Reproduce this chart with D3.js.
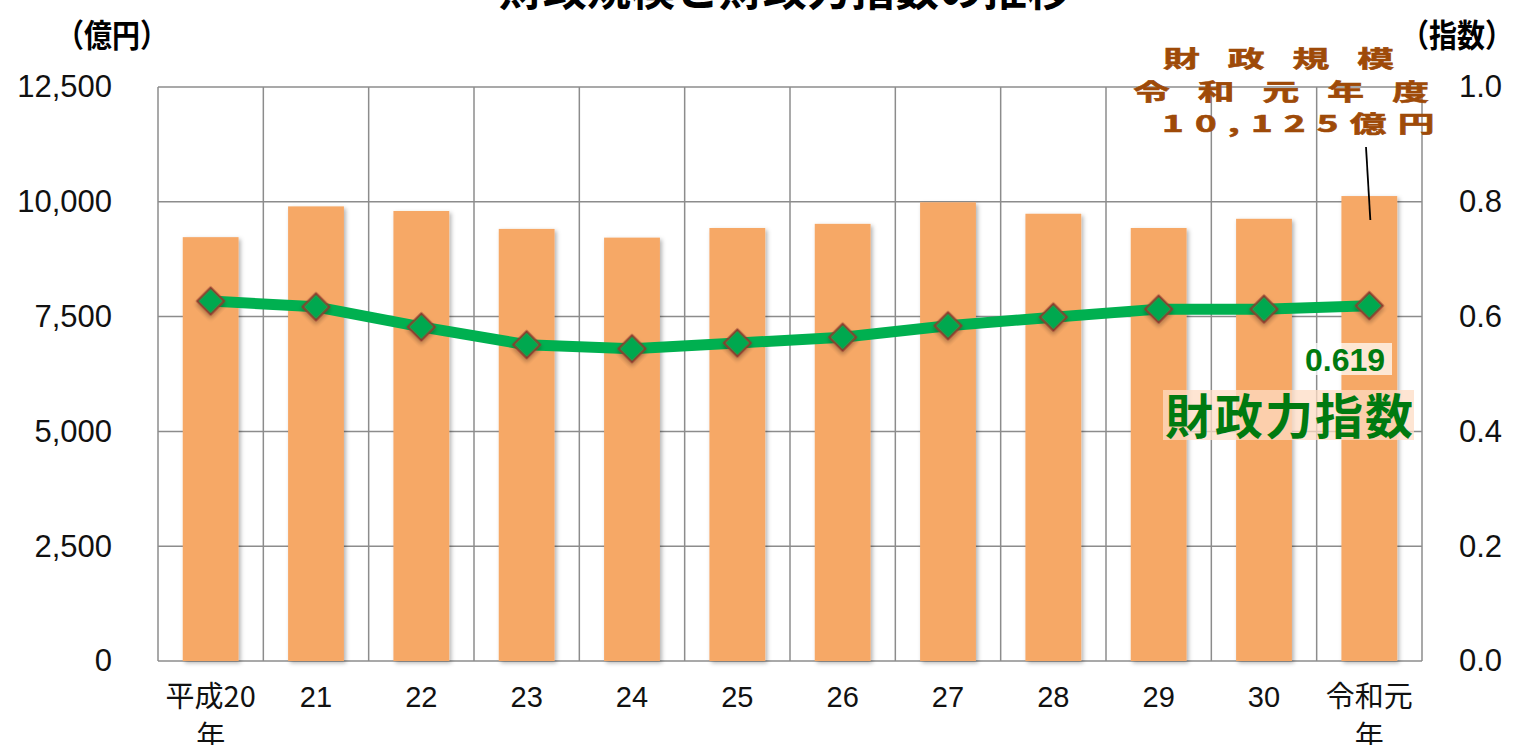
<!DOCTYPE html>
<html lang="ja">
<head>
<meta charset="utf-8">
<title>財政規模と財政力指数の推移</title>
<script src="https://d3js.org/d3.v7.min.js"></script>
<style>
  body { margin: 0; background: #fff; }
  text { font-family: "Liberation Sans", "Noto Sans CJK JP", sans-serif; }
  .jp { font-family: "Noto Sans CJK JP", sans-serif; }
</style>
</head>
<body>
<script>
// data
const years = ["平成20", "21", "22", "23", "24", "25", "26", "27", "28", "29", "30", "令和元"];
const budget = [9230, 9900, 9800, 9410, 9220, 9430, 9520, 9990, 9740, 9430, 9630, 10125];
const index = [0.627, 0.617, 0.582, 0.551, 0.544, 0.554, 0.564, 0.584, 0.599, 0.613, 0.613, 0.619];
const leftTicks = [0, 2500, 5000, 7500, 10000, 12500];
const rightTicks = [0, 0.2, 0.4, 0.6, 0.8, 1.0];

const width = 1513, height = 745;
const plot = { left: 158, right: 1422, top: 87, bottom: 661 };

const svg = d3.select("body").append("svg")
  .attr("width", width).attr("height", height);

const defs = svg.append("defs");
const sh = defs.append("filter").attr("id", "shadow")
  .attr("x", "-20%").attr("y", "-20%").attr("width", "150%").attr("height", "150%");
sh.append("feDropShadow").attr("dx", 2).attr("dy", 2).attr("stdDeviation", 2)
  .attr("flood-color", "#000").attr("flood-opacity", 0.3);

const x = d3.scaleBand().domain(years).range([plot.left, plot.right]).paddingInner(0.47).paddingOuter(0.235);
const xb = d3.scaleBand().domain(years).range([plot.left, plot.right]);
const yL = d3.scaleLinear().domain([0, 12500]).range([plot.bottom, plot.top]);
const yR = d3.scaleLinear().domain([0, 1]).range([plot.bottom, plot.top]);

// grid
const grid = svg.append("g").attr("stroke", "#8c8c8c").attr("stroke-width", 1.5);
grid.selectAll("line.h").data(leftTicks).join("line")
  .attr("x1", plot.left).attr("x2", plot.right)
  .attr("y1", d => yL(d)).attr("y2", d => yL(d));
grid.selectAll("line.v").data(years.concat(["end"])).join("line")
  .attr("x1", (d, i) => plot.left + i * xb.bandwidth())
  .attr("x2", (d, i) => plot.left + i * xb.bandwidth())
  .attr("y1", plot.top).attr("y2", plot.bottom);

// bars
svg.append("g").selectAll("rect").data(budget).join("rect")
  .attr("x", (d, i) => x(years[i]))
  .attr("width", x.bandwidth())
  .attr("y", d => yL(d))
  .attr("height", d => yL(0) - yL(d))
  .attr("fill", "#f6a866")
  .attr("filter", "url(#shadow)");

// left axis
const axL = svg.append("g")
  .attr("transform", `translate(${plot.left - 43},0)`)
  .call(d3.axisLeft(yL).tickValues(leftTicks).tickSize(0).tickFormat(d3.format(",")));
axL.select(".domain").remove();
axL.selectAll("text").attr("font-size", 31).attr("fill", "#111")
  .attr("font-family", "Liberation Sans, sans-serif");

// right axis
const axR = svg.append("g")
  .attr("transform", `translate(${plot.right + 34},0)`)
  .call(d3.axisRight(yR).tickValues(rightTicks).tickSize(0).tickFormat(d3.format(".1f")));
axR.select(".domain").remove();
axR.selectAll("text").attr("font-size", 31).attr("fill", "#111")
  .attr("font-family", "Liberation Sans, sans-serif");

// x labels
const isJp = d => /[^0-9]/.test(d);
svg.append("g").selectAll("text").data(years).join("text")
  .attr("x", d => x(d) + x.bandwidth() / 2)
  .attr("y", 707)
  .attr("text-anchor", "middle")
  .attr("font-size", 29)
  .attr("fill", "#111")
  .attr("class", d => isJp(d) ? "jp" : null)
  .text(d => d);
svg.append("g").selectAll("text").data(years.filter(isJp)).join("text")
  .attr("class", "jp")
  .attr("x", d => x(d) + x.bandwidth() / 2)
  .attr("y", 747)
  .attr("text-anchor", "middle")
  .attr("font-size", 29)
  .attr("fill", "#111")
  .text("年");

// line
const line = d3.line()
  .x((d, i) => x(years[i]) + x.bandwidth() / 2)
  .y(d => yR(d));
svg.append("path").datum(index)
  .attr("d", line)
  .attr("fill", "none")
  .attr("stroke", "#00b050")
  .attr("stroke-width", 11)
  .attr("stroke-linejoin", "round");

svg.append("g").selectAll("path").data(index).join("path")
  .attr("transform", (d, i) => `translate(${x(years[i]) + x.bandwidth() / 2},${yR(d)}) rotate(45)`)
  .attr("d", "M-9.5,-9.5H9.5V9.5H-9.5Z")
  .attr("fill", "#00a84f")
  .attr("stroke", "#8b3a2e")
  .attr("stroke-width", 2)
  .attr("filter", "url(#shadow)");

// title (cut off at top)
svg.append("text").attr("class", "jp")
  .attr("x", 785).attr("y", 6)
  .attr("text-anchor", "middle")
  .attr("font-size", 44).attr("font-weight", "bold")
  .attr("fill", "#000")
  .text("財政規模と財政力指数の推移");

// axis titles
svg.append("text").attr("class", "jp")
  .attr("x", 112).attr("y", 47)
  .attr("text-anchor", "middle")
  .attr("font-size", 32).attr("font-weight", "bold")
  .attr("textLength", 112).attr("lengthAdjust", "spacingAndGlyphs")
  .text("（億円）");
svg.append("text").attr("class", "jp")
  .attr("x", 1457).attr("y", 47)
  .attr("text-anchor", "middle")
  .attr("font-size", 32).attr("font-weight", "bold")
  .attr("textLength", 112).attr("lengthAdjust", "spacingAndGlyphs")
  .text("（指数）");

// budget annotation (wide, spaced lettering)
const noteLines = ["財政規模", "令和元年度", "10,125億円"];
const noteLeft = [1163, 1133, 1162];
const noteSpacing = [17.5, 17.5, 7];
const noteY = [67, 100, 132];
svg.append("g").selectAll("text").data(noteLines).join("text")
  .attr("class", "jp")
  .attr("transform", (d, i) => `translate(${noteLeft[i]},${noteY[i]}) scale(1.6,1)`)
  .attr("font-size", 23).attr("font-weight", "bold")
  .attr("letter-spacing", (d, i) => noteSpacing[i])
  .attr("fill", "#9e4a08")
  .attr("stroke", "#9e4a08").attr("stroke-width", 0.6)
  .text(d => d);
const last = years.length - 1;
const lastX = x(years[last]) + x.bandwidth() / 2;
svg.append("line")
  .attr("x1", 1366).attr("y1", 147)
  .attr("x2", lastX + 1).attr("y2", 220)
  .attr("stroke", "#000").attr("stroke-width", 1.8);

// index annotation
svg.append("rect").attr("x", 1298).attr("y", 343).attr("width", 94).attr("height", 32)
  .attr("fill", "#fff").attr("opacity", 0.72);
svg.append("text")
  .attr("x", 1345).attr("y", 371)
  .attr("text-anchor", "middle")
  .attr("font-family", "Liberation Sans Narrow, Liberation Sans, sans-serif")
  .attr("font-size", 32).attr("font-weight", "bold")
  .attr("fill", "#007a10")
  .text(d3.format(".3f")(index[last]));
svg.append("rect").attr("x", 1163).attr("y", 390).attr("width", 251).attr("height", 50)
  .attr("fill", "#fddcc4").attr("opacity", 0.75);
svg.append("text").attr("class", "jp")
  .attr("x", 1289).attr("y", 434)
  .attr("text-anchor", "middle")
  .attr("font-size", 48).attr("font-weight", "bold")
  .attr("textLength", 248).attr("lengthAdjust", "spacing")
  .attr("fill", "#007a10")
  .text("財政力指数");
</script>
</body>
</html>
